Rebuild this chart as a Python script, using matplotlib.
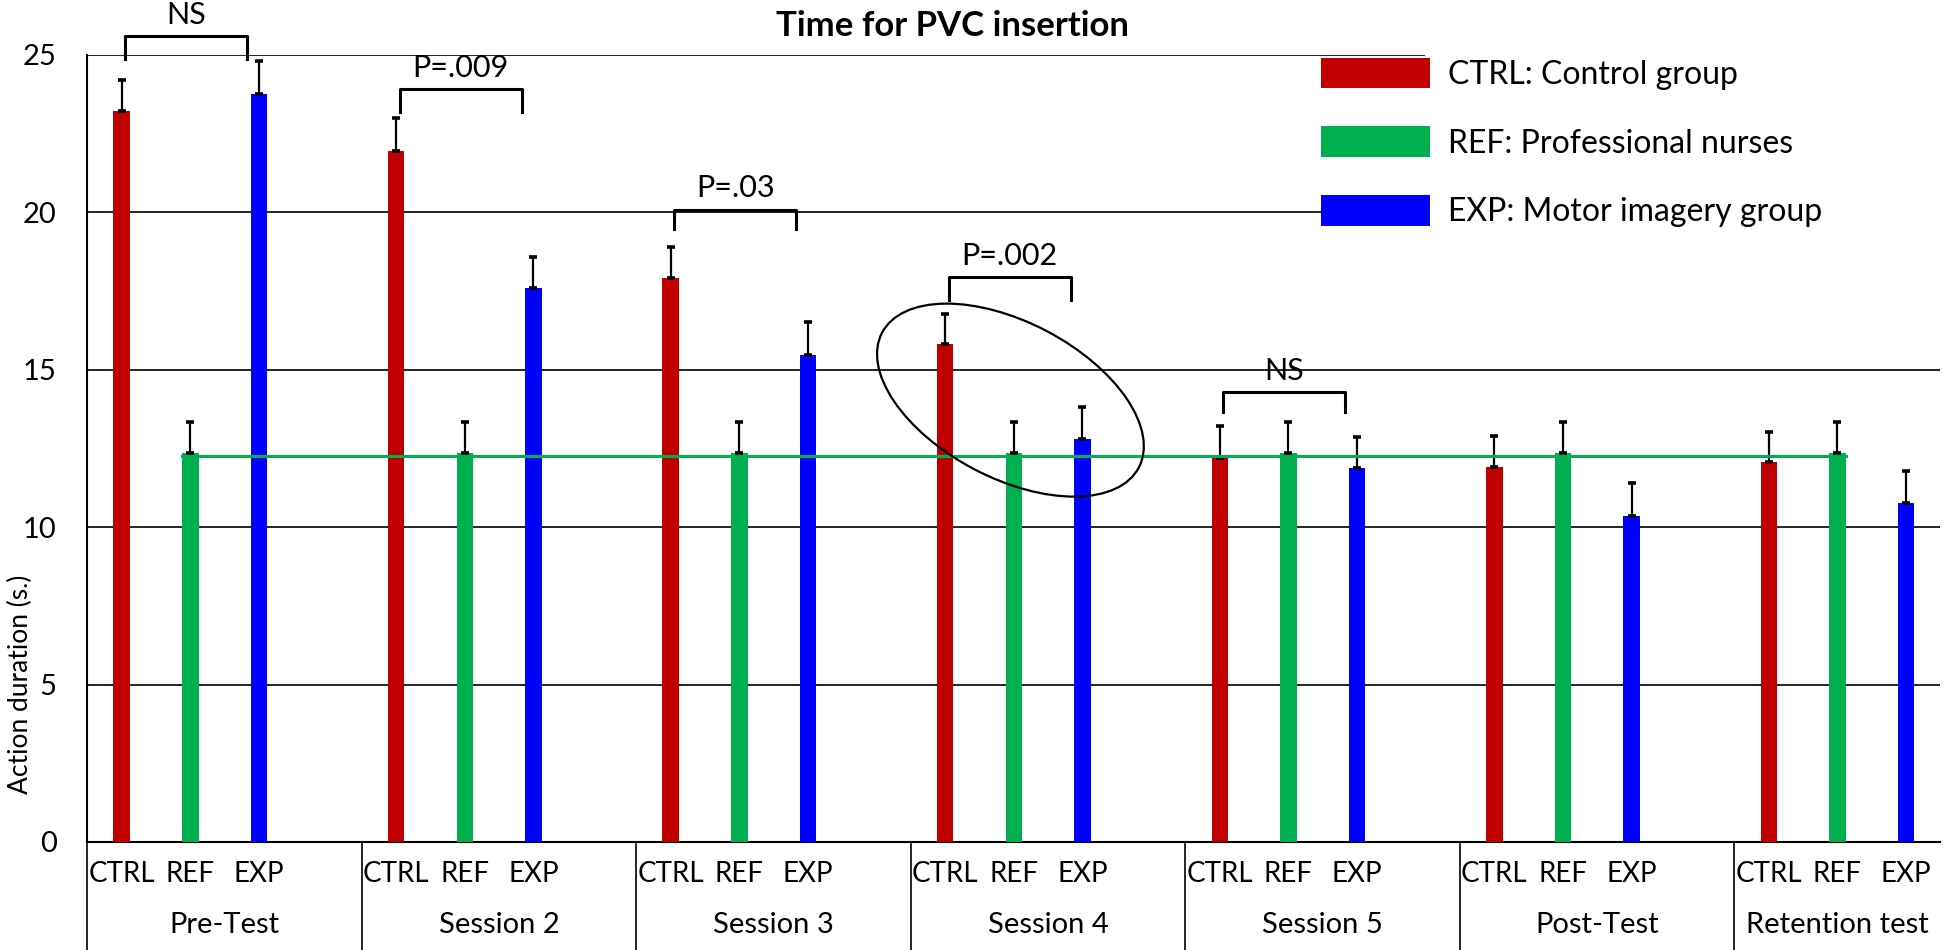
import numpy as np
import matplotlib
matplotlib.use("Agg")
import matplotlib.pyplot as plt
import matplotlib.transforms as transforms
from matplotlib.patches import Ellipse, Rectangle

plt.rcParams['font.family'] = ['Lato', 'DejaVu Sans']

# data
sessions = ["Pre-Test", "Session 2", "Session 3", "Session 4", "Session 5", "Post-Test", "Retention test"]
groups = ["CTRL", "REF", "EXP"]
legend_labels = ["CTRL: Control group", "REF: Professional nurses", "EXP: Motor imagery group"]

ctrl_mean = [23.2, 21.95, 17.9, 15.8, 12.2, 11.9, 12.05]
ref_mean = [12.35, 12.35, 12.35, 12.35, 12.35, 12.35, 12.35]
exp_mean = [23.75, 17.6, 15.45, 12.8, 11.87, 10.35, 10.75]

ctrl_err = [1.0, 1.05, 1.0, 0.97, 1.0, 1.0, 0.97]
ref_err = [0.97, 0.97, 0.97, 0.97, 0.97, 0.97, 0.97]
exp_err = [1.05, 0.98, 1.05, 1.0, 1.0, 1.05, 1.03]

ref_level = 12.25

# significance brackets: session index, label, bracket top, leg bottom
bracket_session = [0, 1, 2, 3, 4]
bracket_text = ["NS", "P=.009", "P=.03", "P=.002", "NS"]
bracket_top = [25.6, 23.9, 20.08, 17.93, 14.29]
bracket_leg = [24.85, 23.17, 19.45, 17.2, 13.66]

red = "#c00000"
green = "#00b050"
blue = "#0000ff"

fig = plt.figure(figsize=(19.46, 9.5), dpi=100)
ax = fig.add_axes([0.0449, 0.1137, 0.9522, 0.8288])

n = len(sessions)
start = np.arange(n) * 4
x_ctrl = start + 0.5
x_ref = start + 1.5
x_exp = start + 2.5
w = 0.24
xmax = 27.0

ekw = dict(ecolor="black", elinewidth=1.6, capsize=3, capthick=2.6)
zeros = np.zeros(n)
b1 = ax.bar(x_ctrl, ctrl_mean, w, color=red, yerr=[zeros, ctrl_err], error_kw=ekw, zorder=3)
b2 = ax.bar(x_ref, ref_mean, w, color=green, yerr=[zeros, ref_err], error_kw=ekw, zorder=3)
b3 = ax.bar(x_exp, exp_mean, w, color=blue, yerr=[zeros, exp_err], error_kw=ekw, zorder=3)

# reference level of professional nurses
ax.plot([x_ref[0] - w / 2, x_ref[-1] + w / 2], [ref_level, ref_level], color=green, lw=2.2, zorder=4)

ax.set_xlim(0, xmax)
ax.set_ylim(0, 25)
ax.set_yticks(range(0, 26, 5))
ax.grid(axis="y", color="black", lw=1.2)
ax.set_axisbelow(True)
for s in ["top", "right"]:
    ax.spines[s].set_visible(False)
ax.spines["left"].set_linewidth(1.5)
ax.spines["bottom"].set_linewidth(1.5)

ticks = np.sort(np.concatenate([x_ctrl, x_ref, x_exp]))
ax.set_xticks(ticks)
ax.set_xticklabels(groups * n)
ax.tick_params(axis="x", length=0, pad=14, labelsize=20)
ax.tick_params(axis="y", length=0, pad=22, labelsize=21)

# second row of category axis
trans = transforms.blended_transform_factory(ax.transData, ax.transAxes)
for s0 in start:
    ax.plot([s0, s0], [0, -0.14], color="black", lw=1.2, transform=trans, clip_on=False)
    ax.text((s0 + min(s0 + 4, xmax)) / 2, -0.105, sessions[s0 // 4], transform=trans,
            ha="center", va="center", fontsize=21)

ax.text(-0.036, 0.2, "Action duration (s.)", transform=ax.transAxes, rotation=90,
        ha="center", va="center", fontsize=19)

# brackets
for i, s in enumerate(bracket_session):
    l = x_ctrl[s] + 0.05
    r = x_exp[s] - 0.17
    ax.plot([l, l, r, r], [bracket_leg[i], bracket_top[i], bracket_top[i], bracket_leg[i]],
            color="black", lw=2.2, clip_on=False, solid_joinstyle="round", zorder=5)
    ax.text((l + r) / 2, bracket_top[i] + 0.67, bracket_text[i], ha="center", va="center",
            fontsize=22, zorder=5)

# ellipse around session 4
ell_tr = fig.dpi_scale_trans + transforms.ScaledTranslation(13.45, 14.03, ax.transData)
ax.add_patch(Ellipse((0, 0), 2.9, 1.56, angle=-27.7, transform=ell_tr, fill=False,
                     edgecolor="black", lw=1.6, zorder=6, clip_on=False))

# white box behind legend text
ax.add_patch(Rectangle((0.722, 0.776), 0.3, 0.25, transform=ax.transAxes, facecolor="white",
                       edgecolor="none", zorder=1, clip_on=False))
ax.legend([b1, b2, b3], legend_labels, loc="upper left", bbox_to_anchor=(0.666, 0.996),
          frameon=False, fontsize=23, handlelength=3.4, handleheight=1.1, labelspacing=1.14,
          handletextpad=0.55, borderpad=0, borderaxespad=0)

fig.text(0.4895, 0.9725, "Time for PVC insertion", ha="center", va="center",
         fontsize=25, fontweight="bold")

fig.savefig("out.png", dpi=100)
